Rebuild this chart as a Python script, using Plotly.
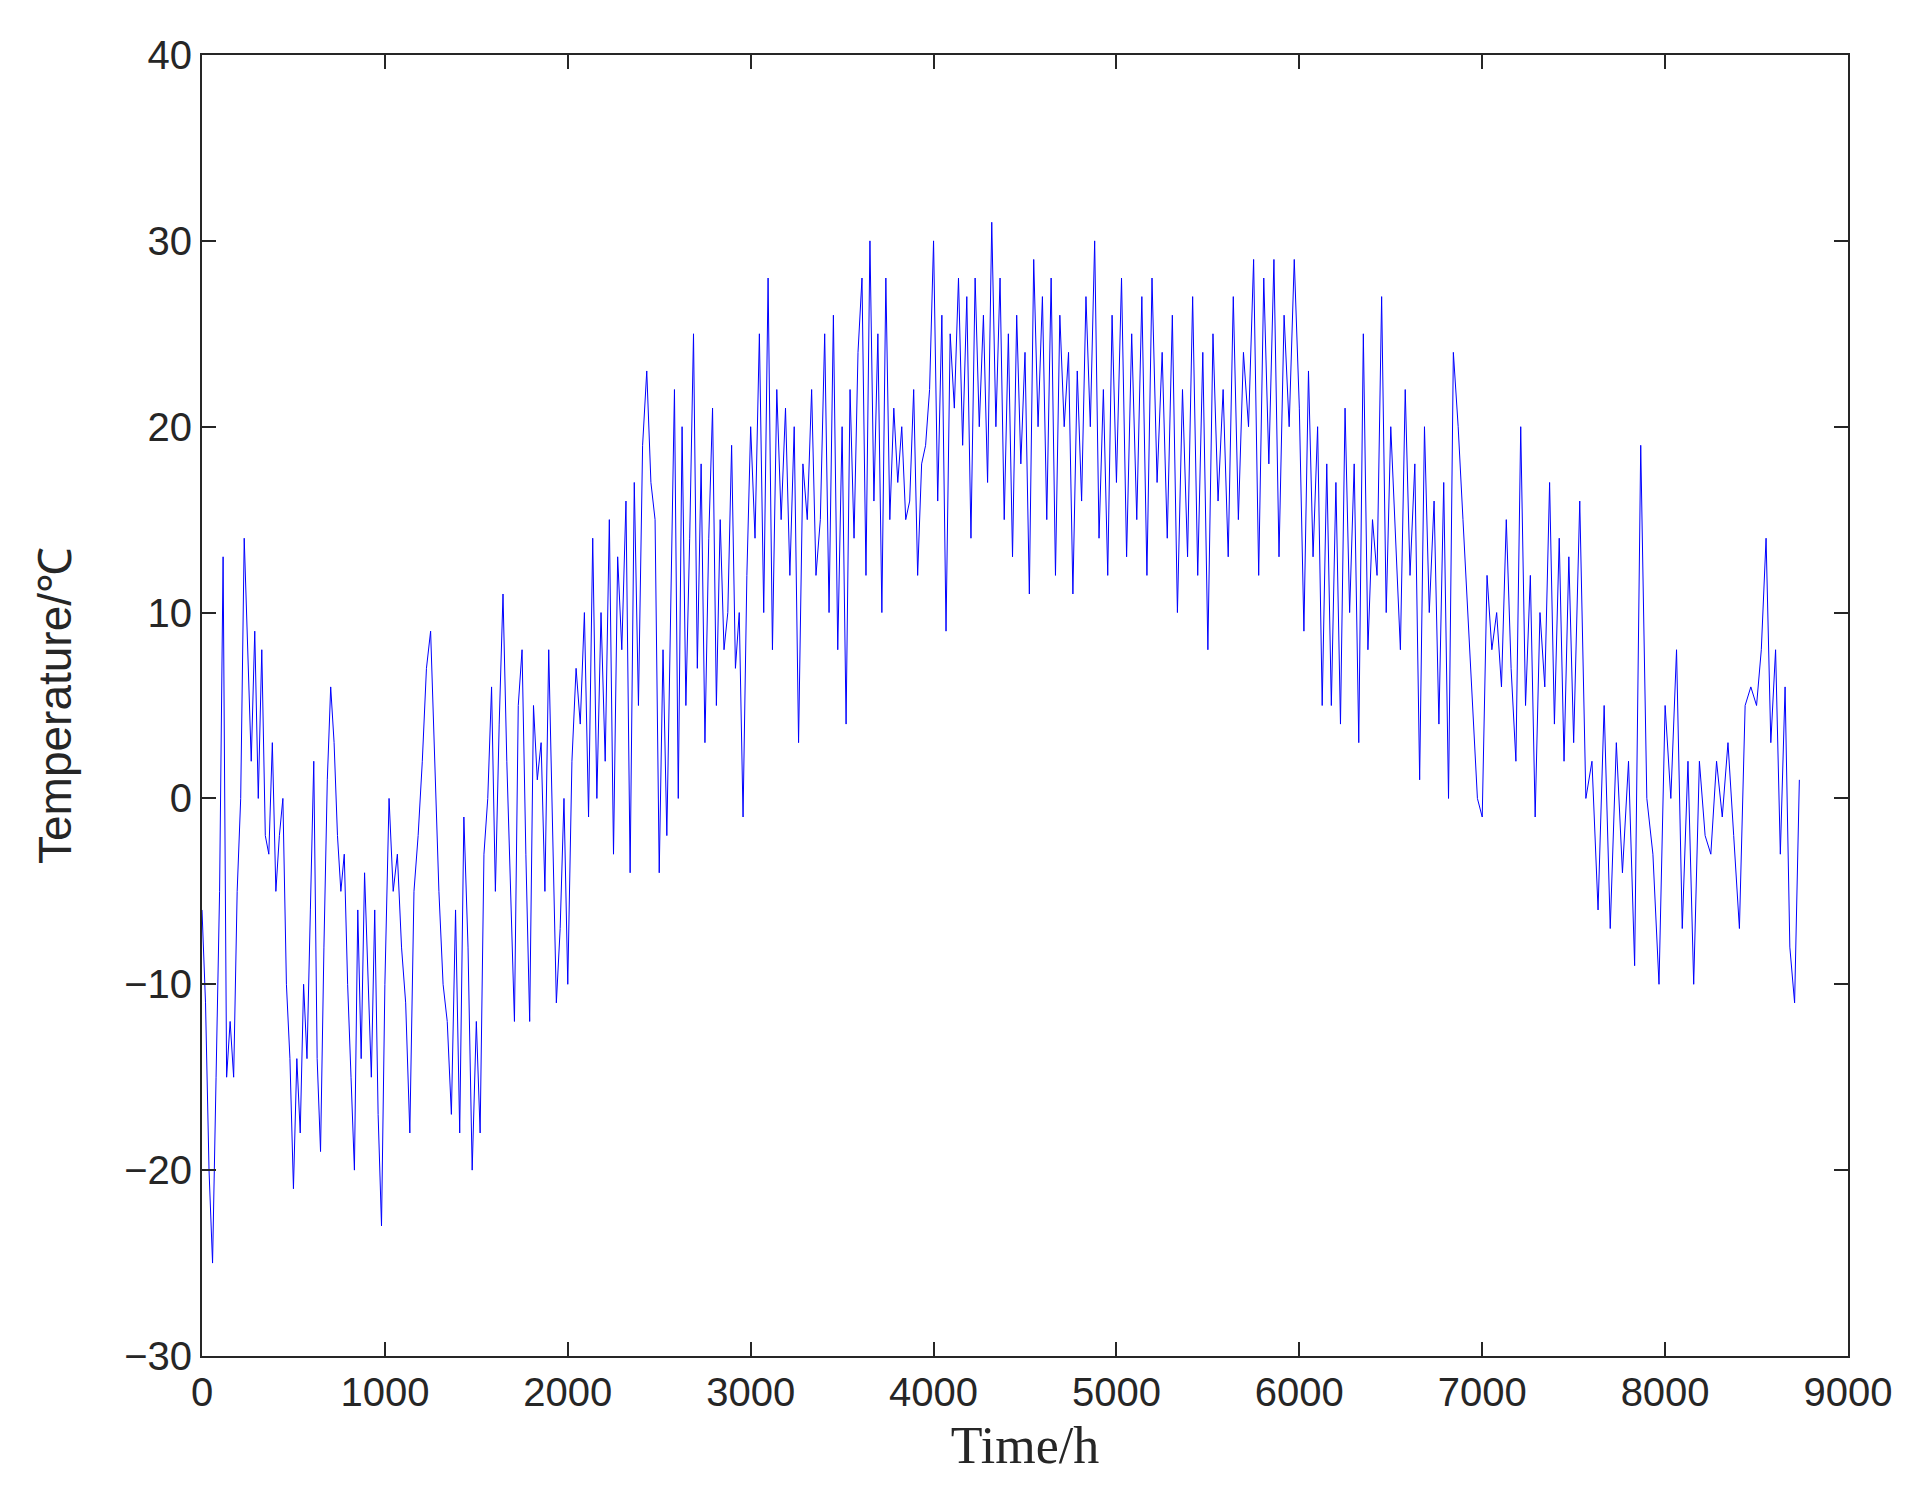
import numpy as np
import plotly.graph_objects as go

# segment start hours and read temperatures (°C) per segment
seg_starts = [0, 500, 1000, 1500, 2000, 2500, 3000, 3500, 4000, 4500, 5000, 5500, 6000, 6500, 7000, 7500, 8000, 8500]
seg_ends = [500, 1000, 1500, 2000, 2500, 3000, 3500, 4000, 4500, 5000, 5500, 6000, 6500, 7000, 7500, 8000, 8500, 8760]
seg_vals = [
    [-6, -11, -20, -25, -15, -5, 13, -15, -12, -15, -5, 0, 14, 8, 2, 9, 0, 8, -2, -3, 3, -5, -2, 0, -10, -14],
    [-21, -14, -18, -10, -14, -6, 2, -14, -19, -8, 1, 6, 3, -2, -5, -3, -10, -15, -20, -6, -14, -4, -10, -15, -6, -17, -23],
    [-10, 0, -5, -3, -8, -11, -18, -5, -2, 2, 7, 9, 2, -5, -10, -12, -17, -6, -18, -1, -8, -20],
    [-12, -18, -3, 0, 6, -5, 4, 11, 2, -5, -12, 5, 8, -3, -12, 5, 1, 3, -5, 8, -2, -11, -7, 0],
    [-10, 2, 7, 4, 10, -1, 14, 0, 10, 2, 15, -3, 13, 8, 16, -4, 17, 5, 19, 23, 17, 15],
    [-4, 8, -2, 10, 22, 0, 20, 5, 14, 25, 7, 18, 3, 14, 21, 5, 15, 8, 10, 19, 7, 10, -1, 12],
    [20, 14, 25, 10, 28, 8, 22, 15, 21, 12, 20, 3, 18, 15, 22, 12, 15, 25, 10, 26, 8],
    [20, 4, 22, 14, 24, 28, 12, 30, 16, 25, 10, 28, 15, 21, 17, 20, 15, 16, 22, 12, 18, 19, 22],
    [30, 16, 26, 9, 25, 21, 28, 19, 27, 14, 28, 20, 26, 17, 31, 20, 28, 15, 25, 13, 26, 18],
    [24, 11, 29, 20, 27, 15, 28, 12, 26, 20, 24, 11, 23, 16, 27, 20, 30, 14, 22, 12, 26],
    [17, 28, 13, 25, 15, 27, 12, 28, 17, 24, 14, 26, 10, 22, 13, 27, 12, 24],
    [8, 25, 16, 22, 13, 27, 15, 24, 20, 29, 12, 28, 18, 29, 13, 26, 20, 29],
    [21, 9, 23, 13, 20, 5, 18, 5, 17, 4, 21, 10, 18, 3, 25, 8, 15, 12, 27, 10],
    [20, 14, 8, 22, 12, 18, 1, 20, 10, 16, 4, 17, 0, 24, 20, 15, 10, 5, 0],
    [-1, 12, 8, 10, 6, 15, 7, 2, 20, 5, 12, -1, 10, 6, 17, 4, 14, 2, 13],
    [3, 16, 0, 2, -6, 5, -7, 3, -4, 2, -9, 19, 0, -3, -10],
    [5, 0, 8, -7, 2, -10, 2, -2, -3, 2, -1, 3, -2, -7, 5, 6],
    [5, 8, 14, 3, 8, -3, 6, -8, -11, 1],
]

hours, temps = [], []
for s, e, v in zip(seg_starts, seg_ends, seg_vals):
    t = np.linspace(s, e, len(v), endpoint=False)
    hours.extend(t.tolist())
    temps.extend(v)

fig = go.Figure(go.Scatter(x=hours, y=temps, mode="lines",
                           line=dict(color="#0000ff", width=1)))
axis_common = dict(showline=True, linecolor="#262626", linewidth=2, mirror="ticks",
                   ticks="inside", ticklen=14, tickwidth=2, tickcolor="#262626",
                   showgrid=False, zeroline=False,
                   tickfont=dict(family="Liberation Sans", size=40, color="#262626"))
fig.update_layout(
    width=1920, height=1506, paper_bgcolor="white", plot_bgcolor="white",
    margin=dict(l=194, r=80, t=47, b=158), showlegend=False,
    xaxis=dict(range=[0, 9000], dtick=1000, **axis_common,
               title=dict(text="Time/h", font=dict(family="Liberation Serif", size=52, color="#262626"), standoff=14)),
    yaxis=dict(range=[-30, 40], dtick=10, **axis_common,
               title=dict(text="Temperature/℃", font=dict(family="Liberation Sans", size=46, color="#262626"), standoff=38)),
)
fig.write_html("out.html")
